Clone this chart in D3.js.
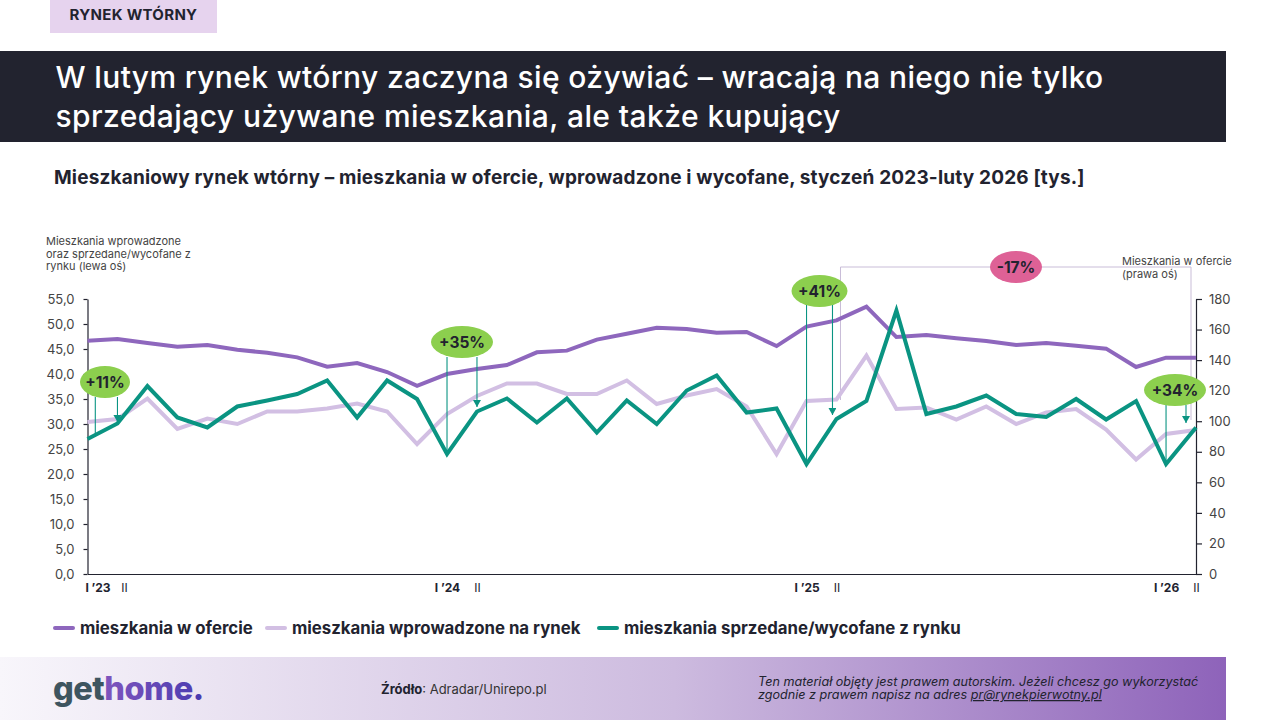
<!DOCTYPE html>
<html>
<head>
<meta charset="utf-8">
<script src="https://d3js.org/d3.v7.min.js"></script>
<style>
  html, body { margin: 0; padding: 0; background: #fff; }
  svg { display: block; }
  text { font-family: Inter, "Noto Sans", sans-serif; }
  .axis path, .axis line { stroke: #22232f; stroke-width: 1.2; }
  .axis text { font-size: 13px; fill: #444; font-family: Inter, sans-serif; }
  .xaxis text { font-size: 12px; fill: #22232f; }
</style>
</head>
<body>
<script>
// months, Jan 2023 - Feb 2026
var months = [];
[2023, 2024, 2025, 2026].forEach(function(y) {
  d3.range(1, 13).forEach(function(m) {
    if (y < 2026 || m <= 2) months.push(y + "-" + (m < 10 ? "0" + m : m));
  });
});

var offers = [152.7, 153.8, 151.2, 148.8, 149.9, 146.8, 144.8, 141.8, 135.7, 138.1, 132.2, 123.2,
  130.9, 134.2, 136.8, 145.1, 146.2, 153.4, 157.3, 161.2, 160.4, 157.9, 158.4, 149.2,
  161.9, 166, 175, 155.1, 156.4, 154.3, 152.5, 149.9, 151.2, 149.4, 147.5, 135.5,
  141.6, 141.6];

var added = [30.4, 31, 35.1, 29, 31.1, 30, 32.5, 32.5, 33.1, 34.1, 32.5, 26,
  32, 35.6, 38.1, 38.1, 36, 36, 38.7, 34, 35.7, 37, 33.5, 24,
  34.6, 34.9, 43.7, 33, 33.3, 30.9, 33.5, 30, 32.3, 33, 28.9, 22.9,
  28, 28.8];

var sold = [27, 30.1, 37.6, 31.3, 29.3, 33.5, 34.7, 36, 38.7, 31.3, 38.7, 35,
  24, 32.5, 35.1, 30.3, 35.1, 28.3, 34.7, 30, 36.7, 39.7, 32.3, 33.1,
  22, 31, 34.6, 52.7, 32, 33.5, 35.7, 32, 31.4, 35, 30.9, 34.6,
  22, 29.3];

var leftTicks = d3.range(0, 56, 5);
var rightTicks = d3.range(0, 181, 20);
var monthTicks = ["2023-01", "2023-02", "2024-01", "2024-02", "2025-01", "2025-02", "2026-01", "2026-02"];
var monthLabels = ["I ’23", "II", "I ’24", "II", "I ’25", "II", "I ’26", "II"];

var legendNames = ["mieszkania w ofercie", "mieszkania wprowadzone na rynek", "mieszkania sprzedane/wycofane z rynku"];

var purple = "#8e67bd", lilac = "#d2bfe3", teal = "#0a9482", ink = "#22232f";

var svg = d3.select("body").append("svg").attr("width", 1280).attr("height", 720);

var defs = svg.append("defs");
var foot = defs.append("linearGradient").attr("id", "foot");
foot.append("stop").attr("offset", "0").attr("stop-color", "#f8f6fb");
foot.append("stop").attr("offset", "0.55").attr("stop-color", "#cdbbdf");
foot.append("stop").attr("offset", "1").attr("stop-color", "#8e63ba");
var logo = defs.append("linearGradient").attr("id", "logo");
logo.append("stop").attr("offset", "0").attr("stop-color", "#9a62c4");
logo.append("stop").attr("offset", "1").attr("stop-color", "#4a3bb0");
defs.append("marker").attr("id", "arrow")
  .attr("viewBox", "0 0 8 7").attr("refX", 4).attr("refY", 7)
  .attr("markerUnits", "userSpaceOnUse").attr("markerWidth", 8).attr("markerHeight", 7)
  .attr("orient", "0")
  .append("path").attr("d", "M0,0L8,0L4,7Z").attr("fill", teal);

// header
svg.append("rect").attr("x", 50).attr("y", 0).attr("width", 167).attr("height", 33).attr("fill", "#e6d3ee");
svg.append("text").attr("x", 133.5).attr("y", 20).attr("text-anchor", "middle")
  .attr("font-size", 15).attr("font-weight", 700).attr("letter-spacing", 0.3).attr("fill", ink).text("RYNEK WTÓRNY");
svg.append("rect").attr("x", 0).attr("y", 51).attr("width", 1226).attr("height", 91).attr("fill", ink);
svg.append("text").attr("x", 55.5).attr("y", 88).attr("font-size", 30).attr("font-weight", 500).attr("letter-spacing", 0.36).attr("fill", "#fff")
  .text("W lutym rynek wtórny zaczyna się ożywiać – wracają na niego nie tylko");
svg.append("text").attr("x", 55.5).attr("y", 127).attr("font-size", 30).attr("font-weight", 500).attr("letter-spacing", 0.42).attr("fill", "#fff")
  .text("sprzedający używane mieszkania, ale także kupujący");
svg.append("text").attr("x", 54).attr("y", 184).attr("font-size", 19).attr("font-weight", 700).attr("letter-spacing", 0.17).attr("fill", ink)
  .text("Mieszkaniowy rynek wtórny – mieszkania w ofercie, wprowadzone i wycofane, styczeń 2023-luty 2026 [tys.]");

// scales
var x = d3.scalePoint().domain(months).range([87.5, 1196]);
var yLeft = d3.scaleLinear().domain([0, 55]).range([574, 299]);
var yRight = d3.scaleLinear().domain([0, 180]).range([574, 299]);

// axes
svg.append("g").attr("class", "axis").attr("transform", "translate(87.5,0)")
  .call(d3.axisLeft(yLeft).tickValues(leftTicks).tickSize(4).tickPadding(9).tickSizeOuter(0)
    .tickFormat(function(d) { return d3.format(".1f")(d).replace(".", ","); }));
svg.append("g").attr("class", "axis").attr("transform", "translate(1196,0)")
  .call(d3.axisRight(yRight).tickValues(rightTicks).tickSize(6).tickPadding(7).tickSizeOuter(0));
var xAxis = svg.append("g").attr("class", "axis xaxis").attr("transform", "translate(0,574)")
  .call(d3.axisBottom(x).tickValues(monthTicks).tickSize(0).tickPadding(9).tickSizeOuter(0)
    .tickFormat(function(d, i) { return monthLabels[i]; }));
xAxis.selectAll(".tick text")
  .attr("font-weight", function(d, i) { return i % 2 ? 400 : 700; })
  .style("font-weight", function(d, i) { return i % 2 ? 400 : 700; });
// the first pair sits off its month, away from the axis corner
xAxis.selectAll(".tick text").filter(function(d) { return d == "2023-01"; }).attr("dx", 10);
xAxis.selectAll(".tick text").filter(function(d) { return d == "2023-02"; }).attr("dx", 6.5);

// axis titles
["Mieszkania wprowadzone", "oraz sprzedane/wycofane z", "rynku (lewa oś)"].forEach(function(t, i) {
  svg.append("text").attr("x", 46).attr("y", 245 + i * 12.5).attr("font-size", 11).attr("fill", "#444").text(t);
});
["Mieszkania w ofercie", "(prawa oś)"].forEach(function(t, i) {
  svg.append("text").attr("x", 1122).attr("y", 265 + i * 12.5).attr("font-size", 11).attr("fill", "#444").text(t);
});

// -17% bracket, sits under the lines
svg.append("path")
  .attr("d", d3.line()([[x("2025-02") + 4, 400], [x("2025-02") + 4, 267], [1191, 267], [1191, 420]]))
  .attr("fill", "none").attr("stroke", "#c9bdd8").attr("stroke-width", 1);

// series
function drawLine(values, scale, colour) {
  var line = d3.line().x(function(d, i) { return x(months[i]); }).y(function(d) { return scale(d); });
  svg.append("path").datum(values).attr("d", line)
    .attr("fill", "none").attr("stroke", colour).attr("stroke-width", 4).attr("stroke-linejoin", "miter");
}
drawLine(added, yLeft, lilac);
drawLine(offers, yRight, purple);
drawLine(sold, yLeft, teal);

// connectors: plain one down to the trough, arrow one down to the next month
function connector(px, y1, y2, arrow) {
  var l = svg.append("line").attr("x1", px).attr("x2", px).attr("y1", y1).attr("y2", y2)
    .attr("stroke", teal).attr("stroke-width", 1.1);
  if (arrow) l.attr("marker-end", "url(#arrow)");
}
connector(95.3, 397, 437, false);
connector(x("2023-02"), 397, 422, true);
connector(x("2024-01"), 357, yLeft(24), false);
connector(x("2024-02"), 357, 407, true);
connector(x("2025-01"), 305, yLeft(22), false);
connector(x("2025-02") - 4, 305, 415, true);
connector(x("2026-01"), 405, yLeft(22), false);
connector(1186, 405, 423, true);

// pills
function pill(cx, cy, rx, colour, label) {
  svg.append("ellipse").attr("cx", cx).attr("cy", cy).attr("rx", rx).attr("ry", 16).attr("fill", colour);
  svg.append("text").attr("x", cx).attr("y", cy + 5.5).attr("text-anchor", "middle")
    .attr("font-size", 15.5).attr("font-weight", 700).attr("fill", ink).text(label);
}
pill(105, 382, 25, "#8ccf4e", "+11%");
pill(462, 342, 31, "#8ccf4e", "+35%");
pill(819.5, 291, 28, "#8ccf4e", "+41%");
pill(1175, 390, 31, "#8ccf4e", "+34%");
pill(1016, 267, 26, "#de6196", "-17%");

// legend
var legendX = [53, 265, 597];
[purple, lilac, teal].forEach(function(c, i) {
  svg.append("line").attr("x1", legendX[i] + 2).attr("x2", legendX[i] + 20).attr("y1", 628).attr("y2", 628)
    .attr("stroke", c).attr("stroke-width", 4).attr("stroke-linecap", "round");
  svg.append("text").attr("x", legendX[i] + 27).attr("y", 634).attr("font-size", 16.8).attr("font-weight", 700)
    .attr("fill", ink).text(legendNames[i]);
});

// footer
svg.append("rect").attr("x", 0).attr("y", 657).attr("width", 1226).attr("height", 63).attr("fill", "url(#foot)");
var logoText = svg.append("text").attr("x", 53).attr("y", 700).attr("font-size", 32.5).attr("font-weight", 800).attr("letter-spacing", -0.5);
logoText.append("tspan").attr("fill", "#3e5560").text("get");
logoText.append("tspan").attr("fill", "url(#logo)").text("home");
logoText.append("tspan").attr("fill", "#4a3bb0").text(".");

var src = svg.append("text").attr("x", 381).attr("y", 694).attr("font-size", 13).attr("fill", "#333");
src.append("tspan").attr("font-weight", 700).attr("fill", ink).text("Źródło");
src.append("tspan").text(": Adradar/Unirepo.pl");

svg.append("text").attr("x", 758).attr("y", 686).attr("font-size", 12.6).attr("font-style", "italic").attr("fill", ink)
  .text("Ten materiał objęty jest prawem autorskim. Jeżeli chcesz go wykorzystać");
var note = svg.append("text").attr("x", 758).attr("y", 699).attr("font-size", 12.6).attr("font-style", "italic").attr("fill", ink);
note.append("tspan").text("zgodnie z prawem napisz na adres ");
note.append("tspan").attr("text-decoration", "underline").text("pr@rynekpierwotny.pl");
</script>
</body>
</html>
